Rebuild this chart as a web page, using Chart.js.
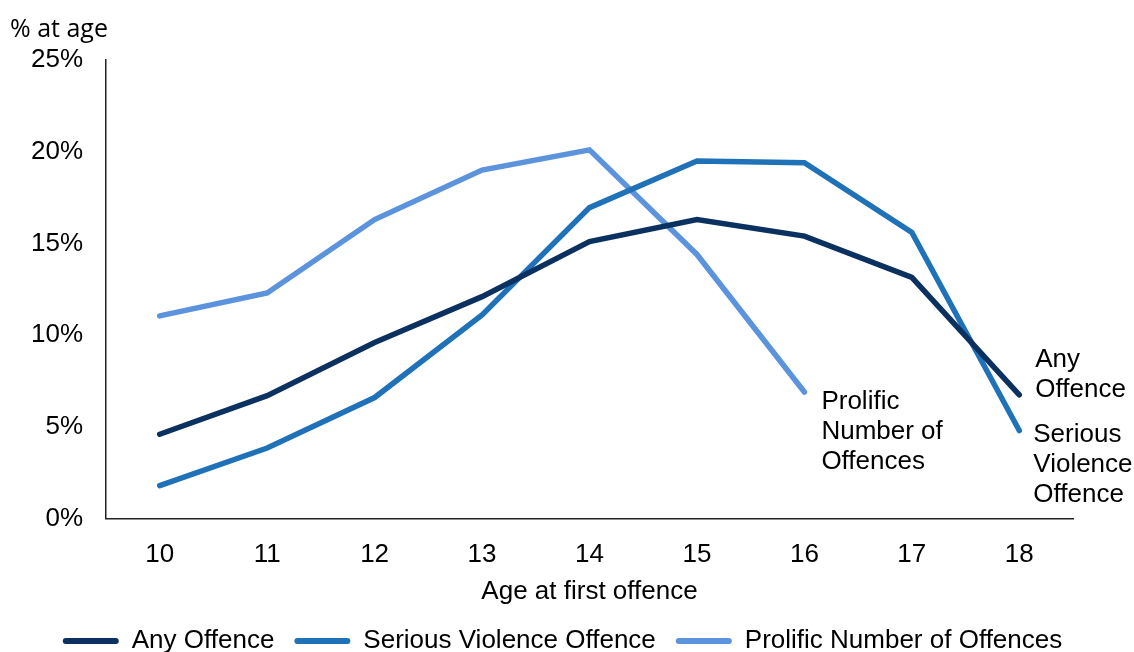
<!DOCTYPE html>
<html>
<head>
<meta charset="utf-8">
<script src="https://cdn.jsdelivr.net/npm/chart.js@4/dist/chart.umd.min.js"></script>
<style>
  html, body { margin: 0; padding: 0; background: #fff; overflow: hidden; }
  #wrap { width: 1134px; height: 664px; }
</style>
</head>
<body>
<div id="wrap"><canvas id="ageChart"></canvas></div>
<script>
// ages at first offence
const ages = ['10', '11', '12', '13', '14', '15', '16', '17', '18'];

// % at age
const anyOffence = [4.6, 6.7, 9.6, 12.1, 15.1, 16.3, 15.4, 13.15, 6.75];
const seriousViolence = [1.8, 3.85, 6.6, 11.1, 16.95, 19.5, 19.4, 15.6, 4.8];
const prolific = [11.05, 12.3, 16.3, 19.0, 20.1, 14.4, 6.9, null, null];

const yTicks = [0, 5, 10, 15, 20, 25];

// end-of-line labels
const endLabels = [
  ['Any', 'Offence'],
  ['Serious', 'Violence', 'Offence'],
  ['Prolific', 'Number of', 'Offences']
];

const armFont = "'Liberation Sans', Arial, Helvetica, sans-serif";
const titleFont = "'Open Sans', sans-serif";
const fs = 26;

// draws the text next to the last point of each line
const endLabelPlugin = {
  id: 'endLabels',
  afterDatasetsDraw(chart) {
    const ctx = chart.ctx;
    const offsets = [{ dx: 16, dy: -35 }, { dx: 14, dy: 4 }, { dx: 17, dy: 10 }];
    ctx.save();
    ctx.font = fs + 'px ' + armFont;
    ctx.fillStyle = '#000';
    ctx.textAlign = 'left';
    ctx.textBaseline = 'middle';
    chart.data.datasets.forEach((ds, i) => {
      const meta = chart.getDatasetMeta(i);
      let last = null;
      meta.data.forEach((pt, j) => { if (ds.data[j] !== null) last = pt; });
      if (!last) return;
      endLabels[i].forEach((line, k) => {
        ctx.fillText(line, last.x + offsets[i].dx, last.y + offsets[i].dy + k * 30);
      });
    });
    ctx.restore();
  }
};

// legend is centred on the whole canvas, not on the padded area
const legendShift = {
  id: 'legendShift',
  afterLayout(chart) {
    if (chart.legend) {
      chart.legend.left += 21;
      chart.legend.right += 21;
    }
  }
};

function drawChart() {
  const ctx = document.getElementById('ageChart').getContext('2d');
  new Chart(ctx, {
    type: 'line',
    data: {
      labels: ages,
      datasets: [
        { label: 'Any Offence', data: anyOffence, borderColor: '#0b3160', backgroundColor: '#0b3160' },
        { label: 'Serious Violence Offence', data: seriousViolence, borderColor: '#1f71b8', backgroundColor: '#1f71b8' },
        { label: 'Prolific Number of Offences', data: prolific, borderColor: '#5b93dc', backgroundColor: '#5b93dc' }
      ]
    },
    options: {
      responsive: true,
      maintainAspectRatio: false,
      animation: false,
      layout: { padding: { left: 10, right: 61, top: 0, bottom: 0 } },
      elements: {
        line: { borderWidth: 5.5, tension: 0, borderCapStyle: 'round', borderJoinStyle: 'miter' },
        point: { radius: 0, hoverRadius: 0 }
      },
      scales: {
        x: {
          offset: true,
          grid: { display: false, drawTicks: false },
          border: { display: true, color: '#222', width: 1.5 },
          ticks: { color: '#000', font: { family: armFont, size: fs }, padding: 20.4 },
          title: { display: true, text: 'Age at first offence', color: '#000', font: { family: armFont, size: fs }, padding: { top: 0, bottom: 0.8 } },
          afterFit(scale) { scale.height = 89.4; }
        },
        y: {
          min: 0,
          max: 25,
          afterBuildTicks(scale) { scale.ticks = yTicks.map(v => ({ value: v })); },
          grid: { display: false, drawTicks: false },
          border: { display: true, color: '#222', width: 1.5 },
          ticks: {
            color: '#000',
            font: { family: armFont, size: fs },
            padding: 23,
            callback: v => v + '%'
          },
          afterFit(scale) { scale.width = 96; }
        }
      },
      plugins: {
        title: {
          display: true,
          text: '% at age',
          align: 'start',
          color: '#000',
          font: { family: titleFont, size: 25, weight: 'normal' },
          padding: { top: 15, bottom: 15 }
        },
        legend: {
          position: 'bottom',
          labels: {
            color: '#000',
            font: { family: armFont, size: fs },
            boxWidth: 56,
            boxHeight: 6,
            padding: 20,
            generateLabels(chart) {
              const items = Chart.defaults.plugins.legend.labels.generateLabels(chart);
              items.forEach(it => { it.lineWidth = 0; it.borderRadius = 3; });
              return items;
            }
          }
        },
        tooltip: { enabled: false }
      }
    },
    plugins: [endLabelPlugin, legendShift]
  });
}

Promise.all([
  document.fonts.load("26px 'Liberation Sans'"),
  document.fonts.load("25px 'Open Sans'")
]).then(drawChart, drawChart);
</script>
</body>
</html>
